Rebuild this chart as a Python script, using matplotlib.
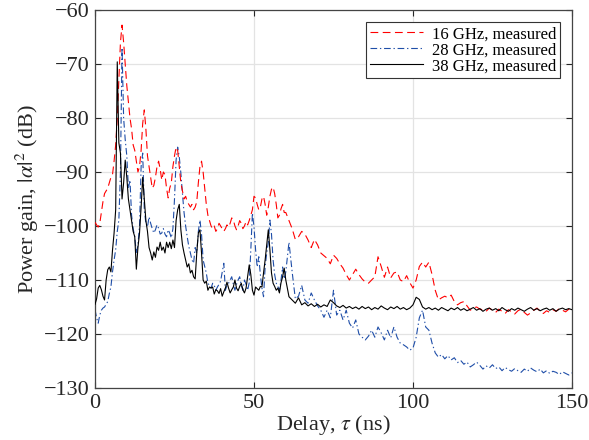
import numpy as np
import matplotlib
matplotlib.use("Agg")
import matplotlib.pyplot as plt

# sample grid (ns): 0.5 ns up to 60 ns, then 1 ns
t_fine = np.arange(0, 60, 0.5)
t_coarse = np.arange(60, 151, 1)
delay = np.concatenate([t_fine, t_coarse])

gain_16 = [
    -99.3, -99.8, -100.2, -99.5, -97.5, -95.5, -94, -93.5, -93, -92,
    -91, -90.5, -88, -85, -80, -73, -66, -62.8, -66, -70,
    -74, -77, -80, -82, -85, -86, -88, -90, -89, -86,
    -81, -78.5, -82, -87, -89, -91, -93, -92.5, -91, -89,
    -88, -89.5, -91.5, -90, -90.5, -93, -94.8, -93, -92, -89,
    -87, -85.4, -86, -89, -92, -93.5, -95, -94.5, -95.5, -96,
    -96.5, -96, -97, -96.5, -95.5, -92, -89, -88, -90, -93,
    -96, -98, -99, -100, -100.5, -100, -101, -100.5, -99.5, -100,
    -100.5, -101, -100.5, -99.8, -100.2, -99.5, -98.5, -98.9, -100, -100.7,
    -100, -99, -99.5, -100.5, -100, -99.2, -99.8, -99, -98, -97,
    -94.5, -94.8, -96, -97, -96.5, -95, -94.5, -96, -98, -96.5,
    -94.5, -93.2, -92.8, -94, -96, -98.5, -98, -96.8, -96, -97.5,
    # 60 .. 150 (1 ns)
    -97.5, -99, -100.5, -102.5, -102, -101, -101.5, -102.6, -104, -102.5,
    -103.5, -105, -105.5, -106, -107, -105.4, -106, -107, -107.8, -109,
    -110, -109, -108, -109, -109.8, -110.4, -110.6, -110, -109.4, -105.7,
    -107.5, -109.5, -107.6, -109.6, -108.7, -108.5, -110, -110.3, -109.2, -110.5,
    -111.5, -110, -107.5, -106.7, -107.6, -106.7, -109, -111.9, -113.7, -113.3,
    -113, -113.3, -112.8, -114, -114.6, -114.2, -114, -114.8, -115.6, -115.2,
    -115, -115.4, -115.5, -115.8, -115.2, -115.6, -116, -115.4, -115.8, -116.2,
    -115.5, -115.9, -116.3, -115.7, -115.4, -116, -116.5, -116.1, -115.6, -115.2,
    -115.8, -116.2, -115.7, -116, -115.5, -115.8, -115.3, -115.6, -115.9, -115.4,
    -115.6,
]

gain_28 = [
    -115.5, -117, -118, -116.5, -115.6, -115.2, -115, -114.5, -114, -112.5,
    -111.3, -108.5, -106.3, -104.4, -101, -98.9, -90, -67, -80, -84,
    -87, -93, -91.5, -98, -100.5, -102, -105, -103.5, -100, -89,
    -86.5, -97, -99.5, -100.2, -98.3, -99.5, -100.5, -101.3, -100.7, -99.8,
    -100.4, -101.5, -101.3, -100.5, -101.5, -102, -100.7, -101.3, -102.2, -100.5,
    -95, -87.8, -85.4, -87.2, -90.2, -94, -97.5, -100, -102, -103.8,
    -105, -106.3, -106.9, -104, -105, -101, -98.9, -101.5, -106.3, -107.5,
    -108.7, -110.6, -111, -111.5, -110.6, -111, -111.9, -111.3, -110.8, -110.2,
    -108.5, -106.9, -111.9, -111, -110.6, -110, -109.4, -110.8, -111.9, -110.8,
    -110, -109.4, -111, -111.9, -110, -110.8, -111.9, -110.5, -104.4, -97.6,
    -100.2, -104.4, -107.6, -105.7, -109, -111.5, -113.1, -107.6, -105, -103.1,
    -98.9, -101.5, -106.3, -109, -110.6, -111.2, -111.9, -110, -107.6, -109.8,
    # 60 .. 150 (1 ns)
    -108.5, -103, -108.5, -113.5, -113, -111, -113.7, -114.3, -112.4, -113.7,
    -114.8, -115.6, -116.9, -115.6, -117, -111.9, -116.5, -115.6, -117.4, -115.6,
    -118, -118.9, -117.4, -120, -120.6, -121.1, -120.4, -119.3, -120.6, -118.7,
    -119.8, -121.1, -119.3, -120.7, -118.7, -120.6, -121.7, -122, -122.4, -123,
    -122.6, -120.6, -117, -115.6, -118.7, -119.3, -121.7, -123.5, -124.3, -123.8,
    -124.6, -124, -124.8, -124.4, -125.3, -124.9, -125.6, -125.2, -126.1, -125.7,
    -125.2, -125.8, -126.5, -125.9, -126.3, -125.7, -126.4, -126.1, -126.8, -126.2,
    -126.6, -126.9, -126.4, -126.8, -127.1, -126.5, -126.9, -126.3, -126.7, -127,
    -126.5, -127.2, -126.8, -127.3, -126.9, -127.1, -127.5, -127, -127.3, -127.6,
    -127.2,
]

gain_38 = [
    -114.5, -113.5, -111.5, -111, -111.8, -113, -113.7, -110, -108.1, -107.6,
    -108.5, -104.5, -101.3, -97, -69.6, -84.6, -86.5, -95, -92, -87.8,
    -91, -95, -97, -99, -101, -102, -108, -104, -101.3, -96.5,
    -91, -95, -99, -101, -104, -105, -106.3, -104.8, -105.8, -103.9,
    -104.5, -103, -104.5, -103.9, -105, -103, -104, -103, -104.2, -102.6,
    -104, -99, -97, -96, -100.7, -103.5, -105, -106.3, -107.6, -107,
    -108.7, -108.2, -109.4, -109.8, -105, -101.3, -100.7, -105, -110, -110.6,
    -110.2, -111.9, -111.3, -111.5, -111.3, -112.6, -111.8, -112, -112.5, -111.6,
    -113, -112.2, -111.5, -110.4, -111.5, -112.4, -111.8, -111.3, -110, -111.5,
    -112, -111.2, -110.6, -111.8, -112.4, -111.5, -109.4, -107.2, -109, -111.9,
    -112.8, -111.3, -111.6, -111.9, -111.2, -111.3, -108.7, -106.3, -103.5, -100.7,
    -104.4, -108.7, -110.6, -111.2, -111.9, -111.5, -112.4, -110.5, -109.4, -107.8,
    # 60 .. 150 (1 ns)
    -110, -113.1, -113.7, -114.3, -113.3, -114.6, -114.2, -114.8, -114.4, -114.9,
    -114.5, -115, -114.6, -114.9, -113.7, -114.2, -114.8, -115.1, -114.7, -115.2,
    -114.9, -115.3, -115, -115.4, -114.9, -115.3, -115, -115.5, -115.1, -115.4,
    -114.8, -115.2, -115.5, -115, -115.3, -114.9, -115.4, -115.1, -115.5, -115.2,
    -114.6, -113.2, -113.6, -115, -115.4, -115.1, -115.5, -115.2, -115.6, -115.1,
    -115.4, -115.7, -115.2, -115.5, -115.1, -115.6, -115.3, -115.7, -115.4, -115.1,
    -115.6, -115.3, -115.8, -115.4, -115.2, -115.6, -115.3, -115.7, -115.1, -115.5,
    -115.8, -115.3, -115.6, -115.2, -115.5, -115.8, -115.4, -115.1, -115.6, -115.3,
    -115.7, -115.4, -115.2, -115.6, -115.3, -115.8, -115.4, -115.2, -115.5, -115.3,
    -115.5,
]

labels = ["16 GHz, measured", "28 GHz, measured", "38 GHz, measured"]
x_ticks = [0, 50, 100, 150]
y_ticks = [-130, -120, -110, -100, -90, -80, -70, -60]

plt.rcParams['font.family'] = ['Liberation Serif', 'DejaVu Serif']
plt.rcParams['mathtext.fontset'] = 'stix'

fig = plt.figure(figsize=(5.89, 4.40), dpi=100)
ax = fig.add_axes([0.1613, 0.1182, 0.8098, 0.8591])

ax.plot(delay, gain_16, color='#ff0000', lw=0.8, dashes=(7, 4), label=labels[0], zorder=3)
ax.plot(delay, gain_28, color='#1f4ea8', lw=0.8, dashes=(6, 2.5, 1.2, 2.5), label=labels[1], zorder=2)
ax.plot(delay, gain_38, color='black', lw=0.8, label=labels[2], zorder=4)

ax.set_xlim(0, 150)
ax.set_ylim(-130, -60)
ax.set_xticks(x_ticks)
ax.set_yticks(y_ticks)
ax.set_yticklabels([f"\u2212{abs(v)}" for v in y_ticks])
ax.grid(True, color='#e3e3e3', lw=0.9)
ax.set_axisbelow(True)
ax.tick_params(direction='in', top=True, right=True, labelsize=16,
               colors='#262626', length=4, pad=4)
for s in ax.spines.values():
    s.set_color('#444444')
    s.set_linewidth(0.9)

ax.set_xlabel(r'Delay, $\tau$ (ns)', fontsize=16, color='#262626', labelpad=0)
ax.set_ylabel(r'Power gain, $|\alpha|^2$ (dB)', fontsize=16, color='#262626', labelpad=2)

leg = ax.legend(loc='upper right', fontsize=12, frameon=True, fancybox=False,
                edgecolor='#333333', framealpha=1, borderpad=0.25, labelspacing=0.0,
                handlelength=3.2, handletextpad=0.5, borderaxespad=0,
                bbox_to_anchor=(0.975, 0.968))
leg.get_frame().set_linewidth(0.8)

fig.savefig('out.png', dpi=100)
